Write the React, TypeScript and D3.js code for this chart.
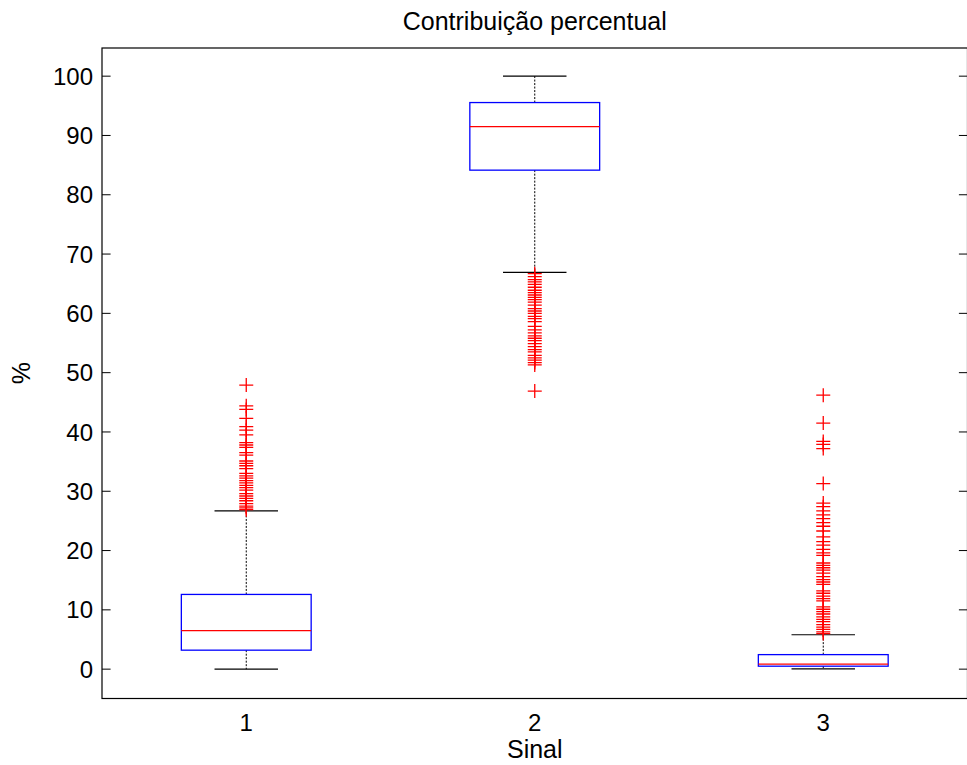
import React from 'react';
import * as d3 from 'd3';

const categories = ['1', '2', '3'];
const q1Values = [3.2, 84.15, 0.5];
const medianValues = [6.5, 91.5, 0.84];
const q3Values = [12.6, 95.55, 2.45];
const whiskerLow = [0, 66.9, 0.05];
const whiskerHigh = [26.7, 100, 5.8];

const outliers1 = [47.9, 44.4, 43.8, 42.3, 40.9, 40.3, 39.5, 38.2, 37.8, 37.4, 36.5, 36.1, 35.1, 34.7, 34.3, 33.8,
  33.0, 32.6, 32.2, 31.8, 31.4, 31.0, 30.6, 30.2, 29.6, 29.2, 28.8, 28.4, 27.9, 27.5, 27.2, 26.9];
const outliers2 = [66.7, 66.2, 65.7, 65.3, 64.9, 64.4, 63.9, 63.5, 63.1, 62.7, 62.3, 61.9, 61.4, 60.8, 60.4, 60.0,
  59.5, 59.1, 58.6, 57.8, 57.2, 56.7, 56.2, 55.8, 55.4, 54.9, 54.4, 53.9, 53.5, 52.9, 52.5, 52.1, 51.7, 51.3, 46.9];
const outliers3 = [46.2, 41.5, 38.4, 37.9, 37.2, 31.3, 28.0, 27.4, 26.7, 26.0, 25.4, 24.7, 24.1, 23.3, 22.3, 21.5,
  20.9, 20.2, 19.6, 19.2, 17.9, 17.5, 17.1, 16.7, 16.2, 15.6, 15.1, 14.7, 14.3, 13.2, 12.8, 12.3, 11.9, 11.5,
  10.5, 10.1, 9.7, 9.3, 8.8, 8.4, 8.0, 7.5, 7.1, 6.7, 6.3, 6.0];
const outlierLists = [outliers1, outliers2, outliers3];

const yTicks = [0, 10, 20, 30, 40, 50, 60, 70, 80, 90, 100];

const title = 'Contribuição percentual';
const xLabel = 'Sinal';
const yLabel = '%';

export default function App() {
  const W = 967;
  const H = 765;
  const left = 102;
  const right = 967.5;
  const top = 48;
  const bottom = 698.5;
  const font = '"Liberation Sans", Arial, Helvetica, sans-serif';

  const x = d3.scaleLinear().domain([0.5, 3.5]).range([left, right]);
  const y = d3.scaleLinear().domain([-4.95, 104.75]).range([bottom, top]);

  const boxHalf = 0.225;
  const capHalf = 0.11;
  const mk = 7;
  const tickLen = 8.6;

  return (
    <svg width={W} height={H} style={{ position: 'absolute', left: 0, top: 0, background: '#fff' }}
      fontFamily={font}>
      <rect x={0} y={0} width={W} height={H} fill="#fff" />
      <rect x={left} y={top} width={right - left} height={bottom - top} fill="none" stroke="#000" strokeWidth={1.2} />
      {yTicks.map((t) => (
        <g key={t}>
          <line x1={left} x2={left + tickLen} y1={y(t)} y2={y(t)} stroke="#000" strokeWidth={1} />
          <line x1={right - tickLen} x2={right} y1={y(t)} y2={y(t)} stroke="#000" strokeWidth={1} />
          <text x={left - 9} y={y(t)} dy="0.36em" textAnchor="end" fontSize={24} fill="#000">{t}</text>
        </g>
      ))}
      {categories.map((c, i) => {
        const cx = x(i + 1);
        return (
          <g key={c}>
            <line x1={cx} x2={cx} y1={y(q3Values[i])} y2={y(whiskerHigh[i])} stroke="#000" strokeWidth={1}
              strokeDasharray="2,1.5" />
            <line x1={cx} x2={cx} y1={y(q1Values[i])} y2={y(whiskerLow[i])} stroke="#000" strokeWidth={1}
              strokeDasharray="2,1.5" />
            <line x1={x(i + 1 - capHalf)} x2={x(i + 1 + capHalf)} y1={y(whiskerHigh[i])} y2={y(whiskerHigh[i])}
              stroke="#000" strokeWidth={1.2} />
            <line x1={x(i + 1 - capHalf)} x2={x(i + 1 + capHalf)} y1={y(whiskerLow[i])} y2={y(whiskerLow[i])}
              stroke="#000" strokeWidth={1.2} />
            <rect x={x(i + 1 - boxHalf)} y={y(q3Values[i])} width={x(i + 1 + boxHalf) - x(i + 1 - boxHalf)}
              height={y(q1Values[i]) - y(q3Values[i])} fill="none" stroke="#0000ff" strokeWidth={1.3} />
            <line x1={x(i + 1 - boxHalf)} x2={x(i + 1 + boxHalf)} y1={y(medianValues[i])} y2={y(medianValues[i])}
              stroke="#ff0000" strokeWidth={1.3} />
            {outlierLists[i].map((v, j) => (
              <path key={j} d={`M${cx - mk},${y(v)}H${cx + mk}M${cx},${y(v) - mk}V${y(v) + mk}`}
                stroke="#ff0000" strokeWidth={1.3} fill="none" />
            ))}
            <text x={cx} y={731} textAnchor="middle" fontSize={24} fill="#000">{c}</text>
          </g>
        );
      })}
      <text x={(left + right) / 2} y={30} textAnchor="middle" fontSize={25} fill="#000">{title}</text>
      <text x={(left + right) / 2} y={758} textAnchor="middle" fontSize={25} fill="#000">{xLabel}</text>
      <text transform={`translate(30,${(top + bottom) / 2}) rotate(-90)`} textAnchor="middle" fontSize={25}
        fill="#000">{yLabel}</text>
    </svg>
  );
}
